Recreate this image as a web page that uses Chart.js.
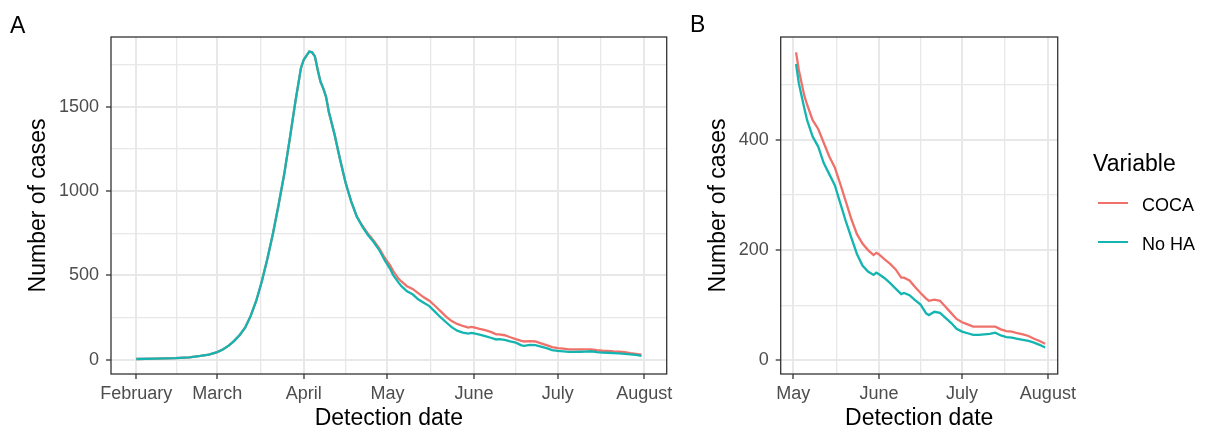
<!DOCTYPE html>
<html><head><meta charset="utf-8">
<script src="https://cdn.jsdelivr.net/npm/chart.js@4/dist/chart.umd.min.js"></script>
<style>
html,body{margin:0;padding:0;background:#fff;}
body{width:1206px;height:430px;position:relative;overflow:hidden;font-family:"Liberation Sans",Arial,sans-serif;}
canvas{position:absolute;top:0;}
.t{position:absolute;white-space:nowrap;color:#000;}
.key{position:absolute;height:2px;width:30px;}
</style></head><body>
<canvas id="cA" width="690" height="430" style="left:0px"></canvas>
<canvas id="cB" width="516" height="430" style="left:690px"></canvas>
<div class="t" style="left:10px;top:14px;font-size:23px;line-height:23px">A</div>
<div class="t" style="left:690px;top:13px;font-size:23px;line-height:23px">B</div>
<div class="t" style="left:1093px;top:152px;font-size:23px;line-height:23px">Variable</div>
<div class="key" id="kCoca" style="left:1098px;top:202px"></div>
<div class="t" style="left:1142px;top:196px;font-size:18px;line-height:18px">COCA</div>
<div class="key" id="kNoHa" style="left:1098px;top:241px"></div>
<div class="t" style="left:1142px;top:235px;font-size:18px;line-height:18px">No HA</div>
<script>
// Day of year 2020 (Jan 1 = 0)
const days = [31,38,45,50,54,57,60,62,64,66,68,70,72,74,76,78,80,82,84,86,88,90,91,92,93,94,95,96,97,98,99,100,102,104,106,108,110,112,114,116,118,120,
  122,123,125,126,128,130,132,134,136,138,140,142,144,146,148,150,151,152,154,156,158,160,161,163,165,167,169,170,172,174,176,178,180,182,184,186,188,190,192,194,196,198,200,202,204,206,208,210,212];
const cocaCases = [4,6,9,14,22,30,45,60,82,110,145,190,260,350,465,600,750,920,1100,1310,1530,1730,1780,1805,1828,1824,1800,1720,1650,1610,1560,1470,1340,1190,1050,940,850,795,748,708,662,605,
  559,527,480,464,436,420,395,370,350,320,288,256,229,212,200,191,195,192,183,175,165,150,150,145,133,122,112,108,110,108,97,86,75,69,65,61,61,61,61,61,56,53,52,49,47,44,39,35,30];
const noHaCases = [4,6,9,14,22,30,45,60,82,110,145,190,260,350,465,600,750,920,1100,1310,1530,1730,1780,1805,1828,1824,1800,1720,1650,1610,1560,1470,1340,1190,1050,940,850,790,740,700,652,590,
  538,503,457,436,406,388,358,338,318,285,252,222,193,172,161,155,159,156,149,140,130,120,122,118,109,101,85,82,88,86,77,68,57,52,49,46,46,47,48,50,45,42,41,39,37,35,32,28,23];
const seriesNames = ['COCA','No HA'];
const monthTicksA = [31,60,91,121,152,182,213];
const monthLabelsA = ['February','March','April','May','June','July','August'];
const minorXA = [45.5,75.5,106,136.5,167,197.5];
const monthTicksB = [121,152,182,213];
const monthLabelsB = ['May','June','July','August'];
const minorXB = [136.5,167,197.5];
const yTicksA = [0,500,1000,1500];
const yMinorA = [250,750,1250,1750];
const yTicksB = [0,200,400];
const yMinorB = [100,300,500];
const panelBFrom = 122;

const FONT = '"Liberation Sans", Arial, sans-serif';
const RED = '#F0716A';
const TEAL = '#14B5B0';
const GRID = '#E8E8E8';
const DARK = '#333333';
document.getElementById('kCoca').style.background = RED;
document.getElementById('kNoHa').style.background = TEAL;

const borderPlugin = {
  id: 'panelBorder',
  afterDatasetsDraw(chart) {
    const a = chart.chartArea, ctx = chart.ctx;
    ctx.save();
    ctx.strokeStyle = DARK;
    ctx.lineWidth = 1.3;
    ctx.strokeRect(a.left, a.top, a.right - a.left, a.bottom - a.top);
    ctx.restore();
  }
};

function makeChart(id, cfg) {
  const pts = vals => days.map((d, i) => ({x: d, y: vals[i]})).filter(p => p.x >= cfg.from);
  const allX = cfg.xMajor.concat(cfg.xMinor).sort((a, b) => a - b);
  const allY = cfg.yMajor.concat(cfg.yMinor).sort((a, b) => a - b);
  const isMaj = (list, c) => c.tick && list.includes(c.tick.value);
  return new Chart(document.getElementById(id), {
    type: 'line',
    data: {datasets: [
      {label: seriesNames[0], data: pts(cocaCases), borderColor: RED, borderWidth: 2.3, pointRadius: 0, tension: 0, order: 1},
      {label: seriesNames[1], data: pts(noHaCases), borderColor: TEAL, borderWidth: 2.3, pointRadius: 0, tension: 0, order: 0}
    ]},
    options: {
      responsive: false, animation: false, devicePixelRatio: 1,
      layout: {padding: {left: 0, top: 37, right: cfg.padRight, bottom: 0}},
      plugins: {legend: {display: false}, tooltip: {enabled: false}},
      scales: {
        x: {
          type: 'linear', min: cfg.xMin, max: cfg.xMax,
          afterBuildTicks: s => { s.ticks = allX.map(v => ({value: v})); },
          afterFit: s => { s.height = 56; },
          ticks: {autoSkip: false, maxRotation: 0, padding: 4, color: '#4D4D4D', font: {family: FONT, size: 18},
            callback: v => { const i = cfg.xMajor.indexOf(v); return i >= 0 ? cfg.xLabels[i] : ''; }},
          grid: {color: GRID, lineWidth: c => isMaj(cfg.xMajor, c) ? 2 : 1.3, tickLength: 5,
            tickColor: c => isMaj(cfg.xMajor, c) ? DARK : 'rgba(0,0,0,0)', tickWidth: 1.3},
          border: {display: false},
          title: {display: true, text: 'Detection date', color: '#000', font: {family: FONT, size: 23, lineHeight: 1}, padding: {top: 0, bottom: 0}}
        },
        y: {
          type: 'linear', min: cfg.yMin, max: cfg.yMax,
          afterBuildTicks: s => { s.ticks = allY.map(v => ({value: v})); },
          afterFit: s => { s.width = cfg.yWidth; },
          ticks: {padding: 7, color: '#4D4D4D', font: {family: FONT, size: 18},
            callback: v => cfg.yMajor.includes(v) ? String(v) : ''},
          grid: {color: GRID, lineWidth: c => isMaj(cfg.yMajor, c) ? 2 : 1.3, tickLength: 5,
            tickColor: c => isMaj(cfg.yMajor, c) ? DARK : 'rgba(0,0,0,0)', tickWidth: 1.3},
          border: {display: false},
          title: {display: true, text: 'Number of cases', color: '#000', font: {family: FONT, size: 23, lineHeight: 1}, padding: {top: cfg.yTitlePad, bottom: 0}}
        }
      }
    },
    plugins: [borderPlugin]
  });
}

makeChart('cA', {from: 0, xMin: 21.95, xMax: 221.05, xMajor: monthTicksA, xLabels: monthLabelsA, xMinor: minorXA,
  yMin: -85, yMax: 1915, yMajor: yTicksA, yMinor: yMinorA, yWidth: 111, padRight: 23.3, yTitlePad: 27});
makeChart('cB', {from: panelBFrom, xMin: 116.45, xMax: 216.55, xMajor: monthTicksB, xLabels: monthLabelsB, xMinor: minorXB,
  yMin: -25, yMax: 587, yMajor: yTicksB, yMinor: yMinorB, yWidth: 90.7, padRight: 148.3, yTitlePad: 17});
</script>
</body></html>
